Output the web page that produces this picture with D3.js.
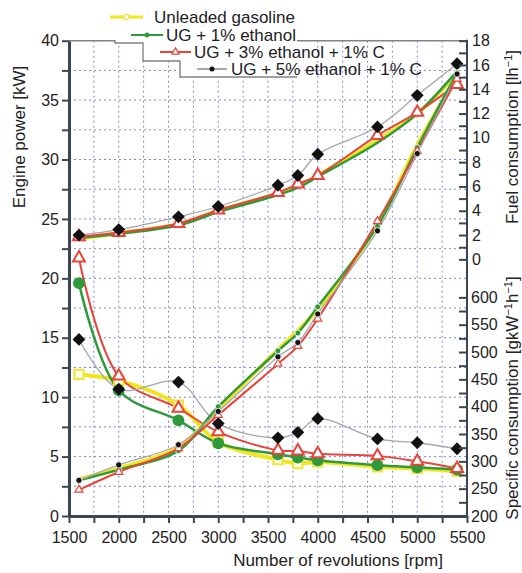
<!DOCTYPE html>
<html>
<head>
<meta charset="utf-8">
<script src="https://cdn.jsdelivr.net/npm/d3@7"></script>
<style>
body { margin: 0; background: #fff; }
svg { font-family: "Liberation Sans", Arial, sans-serif; }
</style>
</head>
<body>
<div id="chart"></div>
<script>
// data
var rpm = [1600, 2000, 2600, 3000, 3600, 3800, 4000, 4600, 5000, 5400];

var seriesNames = ["Unleaded gasoline", "UG + 1% ethanol", "UG + 3% ethanol + 1% C", "UG + 5% ethanol + 1% C"];

// engine power [kW]
var powerUG = [3.1, 4.0, 5.8, 9.0, 14.0, 15.6, 17.4, 24.5, 31.2, 37.0];
var powerE1 = [3.0, 3.9, 5.5, 9.2, 13.9, 15.4, 17.6, 24.4, 31.0, 37.3];
var powerE3 = [2.2, 3.7, 5.7, 8.5, 12.8, 14.3, 16.6, 24.8, 30.7, 36.8];
var powerE5 = [3.0, 4.3, 6.0, 8.8, 13.4, 14.6, 17.0, 24.0, 30.5, 37.2];

// fuel consumption [l/h]
var fuelUG = [1.7, 2.15, 2.9, 4.0, 5.4, 6.0, 6.9, 9.8, 12.0, 15.3];
var fuelE1 = [1.75, 2.1, 2.8, 3.9, 5.3, 5.9, 6.8, 9.6, 12.0, 15.5];
var fuelE3 = [1.85, 2.2, 2.95, 4.05, 5.5, 6.2, 6.9, 10.2, 12.1, 14.4];
var fuelE5 = [2.0, 2.45, 3.5, 4.35, 6.1, 6.9, 8.65, 10.9, 13.5, 16.1];

// specific consumption [g/kWh]
var specUG = [459, 448, 403, 335, 303, 296, 299, 290, 287, 282];
var specE1 = [626, 430, 375, 333, 313, 307, 302, 293, 289, 285];
var specE3 = [672, 456, 397, 354, 320, 319, 314, 310, 300, 287];
var specE5 = [523, 432, 445, 369, 343, 353, 378, 341, 334, 323];

// ticks
var xTicks = [1500, 2000, 2500, 3000, 3500, 4000, 4500, 5000, 5500];
var xMinor = [1500, 1750, 2000, 2250, 2500, 2750, 3000, 3250, 3500, 3750, 4000, 4250, 4500, 4750, 5000, 5250, 5500];
var powerTicks = [0, 5, 10, 15, 20, 25, 30, 35, 40];
var powerMinor = [0, 2.5, 5, 7.5, 10, 12.5, 15, 17.5, 20, 22.5, 25, 27.5, 30, 32.5, 35, 37.5, 40];
var fuelTicks = [0, 2, 4, 6, 8, 10, 12, 14, 16, 18];
var fuelMinor = [0, 1, 2, 3, 4, 5, 6, 7, 8, 9, 10, 11, 12, 13, 14, 15, 16, 17, 18];
var specTicks = [200, 250, 300, 350, 400, 450, 500, 550, 600];
var specMinor = [200, 225, 250, 275, 300, 325, 350, 375, 400, 425, 450, 475, 500, 525, 550, 575, 600];

var W = 522, H = 573;
var pLeft = 69, pRight = 467, pTop = 40.7, pBottom = 516;

var svg = d3.select("#chart").append("svg")
    .attr("width", W)
    .attr("height", H);

var x = d3.scaleLinear().domain([1500, 5500]).range([pLeft, pRight]);
var y = d3.scaleLinear().domain([0, 40]).range([pBottom, pTop]);
var yFuel = d3.scaleLinear().domain([0, 18]).range([y(21.6), y(40)]);
var ySpec = d3.scaleLinear().domain([200, 600]).range([y(0), y(18.4)]);

var gridCol = "#8389c9";
var axisCol = "#3b4651";

// grid
svg.append("g").selectAll("line").data(xMinor.slice(1, -1)).enter().append("line")
    .attr("x1", d => x(d)).attr("x2", d => x(d))
    .attr("y1", pTop).attr("y2", pBottom)
    .attr("stroke", gridCol).attr("stroke-width", 1).attr("stroke-dasharray", "2,3");
svg.append("g").selectAll("line").data(powerMinor.slice(1, -1)).enter().append("line")
    .attr("x1", pLeft).attr("x2", pRight)
    .attr("y1", d => y(d)).attr("y2", d => y(d))
    .attr("stroke", gridCol).attr("stroke-width", 1).attr("stroke-dasharray", "2,3");

// legend background staircase covering the top of the frame
svg.append("path")
    .attr("d", "M115,0 L115,43 L143,43 L143,61 L180,61 L180,77 L297,77 L297,0 Z")
    .attr("fill", "#fff");
svg.append("path")
    .attr("d", "M" + pLeft + "," + pTop + " L115," + pTop + " L115,43 L143,43 L143,61 L180,61 L180,77 L297,77 M297," + pTop + " L" + pRight + "," + pTop)
    .attr("fill", "none").attr("stroke", "#80838a").attr("stroke-width", 1.4);

var cols = ["#f1e61c", "#2f9a3c", "#e8443b", "#a3a6ae"];
var widths = [4, 2.5, 2, 1.3];

var line = function(yscale) {
    return d3.line()
        .x(d => x(d[0]))
        .y(d => yscale(d[1]))
        .curve(d3.curveCatmullRom.alpha(0.5));
};

function pairs(vals) {
    return rpm.map((r, i) => [r, vals[i]]);
}

var groups = [
    {scale: ySpec, data: [specUG, specE1, specE3, specE5]},
    {scale: yFuel, data: [fuelUG, fuelE1, fuelE3, fuelE5]},
    {scale: y, data: [powerUG, powerE1, powerE3, powerE5]}
];

groups.forEach(function(g) {
    g.data.forEach(function(vals, i) {
        svg.append("path")
            .datum(pairs(vals))
            .attr("d", line(g.scale))
            .attr("fill", "none")
            .attr("stroke", cols[i])
            .attr("stroke-width", widths[i])
            .attr("stroke-linejoin", "round");
    });
});

function markers(vals, yscale, type, size, fill, stroke, sw, rot) {
    var sym = d3.symbol().type(type).size(size);
    svg.append("g").selectAll("path").data(pairs(vals)).enter().append("path")
        .attr("d", sym)
        .attr("transform", d => "translate(" + x(d[0]) + "," + yscale(d[1]) + ")" + (rot ? " rotate(45)" : ""))
        .attr("fill", fill)
        .attr("stroke", stroke)
        .attr("stroke-width", sw);
}

// specific consumption markers (large)
markers(specUG, ySpec, d3.symbolSquare, 85, "#fffbe0", "#efe33a", 2);
markers(specE1, ySpec, d3.symbolCircle, 110, "#2f9a3c", "none", 0);
markers(specE3, ySpec, d3.symbolTriangle, 62, "#fff", "#e8443b", 2);
markers(specE5, ySpec, d3.symbolSquare, 82, "#111", "none", 0, true);

// fuel markers
markers(fuelE3, yFuel, d3.symbolTriangle, 62, "#fff", "#e8443b", 2);
markers(fuelE5, yFuel, d3.symbolSquare, 82, "#111", "none", 0, true);

// power markers (small)
markers(powerE1, y, d3.symbolCircle, 28, "#2f9a3c", "#fff", 0.8);
markers(powerE3, y, d3.symbolTriangle, 28, "#fff", "#e8443b", 1.2);
markers(powerE5, y, d3.symbolCircle, 30, "#111", "#fff", 0.8);

// axes
function styleAxis(g, w) {
    g.attr("font-family", null);
    g.select(".domain").attr("stroke", axisCol).attr("stroke-width", w);
    g.selectAll(".tick line").attr("stroke", axisCol).attr("stroke-width", 2);
    g.selectAll("text").attr("font-size", "16px").attr("fill", "#222");
}

var xAxis = svg.append("g").attr("transform", "translate(0," + pBottom + ")")
    .call(d3.axisBottom(x).tickValues(xMinor).tickSize(7).tickSizeOuter(0)
        .tickFormat(d => xTicks.indexOf(d) >= 0 ? d : ""));
styleAxis(xAxis, 3);
xAxis.selectAll("text").attr("dy", "1.05em");

var yAxis = svg.append("g").attr("transform", "translate(" + pLeft + ",0)")
    .call(d3.axisLeft(y).tickValues(powerMinor).tickSize(7).tickSizeOuter(0)
        .tickFormat(d => powerTicks.indexOf(d) >= 0 ? d : ""));
styleAxis(yAxis, 3);
yAxis.selectAll("text").attr("x", -10);

svg.append("line")
    .attr("x1", pRight).attr("x2", pRight)
    .attr("y1", pTop - 1).attr("y2", pBottom)
    .attr("stroke", axisCol).attr("stroke-width", 2);

var fAxis = svg.append("g").attr("transform", "translate(" + pRight + ",0)")
    .call(d3.axisRight(yFuel).tickValues(fuelMinor).tickSize(-8).tickSizeOuter(0)
        .tickFormat(d => fuelTicks.indexOf(d) >= 0 ? d : ""));
styleAxis(fAxis, 0);
fAxis.selectAll("text").attr("x", 5);

var sAxis = svg.append("g").attr("transform", "translate(" + pRight + ",0)")
    .call(d3.axisRight(ySpec).tickValues(specMinor).tickSize(-8).tickSizeOuter(0)
        .tickFormat(d => specTicks.indexOf(d) >= 0 ? d : ""));
styleAxis(sAxis, 0);
sAxis.selectAll("text").attr("x", 4);

// axis titles
svg.append("text")
    .attr("transform", "translate(25,137) rotate(-90)")
    .attr("text-anchor", "middle")
    .attr("font-size", "17px").attr("fill", "#222")
    .text("Engine power [kW]");

svg.append("text")
    .attr("x", 338).attr("y", 566)
    .attr("text-anchor", "middle")
    .attr("font-size", "17px").attr("fill", "#222")
    .text("Number of revolutions [rpm]");

var ft = svg.append("text")
    .attr("transform", "translate(518,137) rotate(-90)")
    .attr("text-anchor", "middle")
    .attr("font-size", "17px").attr("fill", "#222");
ft.append("tspan").text("Fuel consumption [lh");
ft.append("tspan").attr("dy", -6).attr("font-size", "11px").text("\u22121");
ft.append("tspan").attr("dy", 6).text("]");

var st = svg.append("text")
    .attr("transform", "translate(518,398) rotate(-90)")
    .attr("text-anchor", "middle")
    .attr("font-size", "17px").attr("fill", "#222");
st.append("tspan").text("Specific consumption [gkW");
st.append("tspan").attr("dy", -6).attr("font-size", "11px").text("\u22121");
st.append("tspan").attr("dy", 6).text("h");
st.append("tspan").attr("dy", -6).attr("font-size", "11px").text("\u22121");
st.append("tspan").attr("dy", 6).text("]");

// legend
var legPos = [[110, 143, 17, 154], [131, 163, 35, 166], [160, 191, 52, 194], [197, 227, 69, 231]];
var legMarks = [
    {type: d3.symbolCircle, size: 22, fill: "#fff", stroke: "#e8de30"},
    {type: d3.symbolCircle, size: 20, fill: "#2f9a3c", stroke: "none"},
    {type: d3.symbolTriangle, size: 22, fill: "#fff", stroke: "#e8443b"},
    {type: d3.symbolCircle, size: 20, fill: "#111", stroke: "none"}
];
var leg = svg.append("g").selectAll("g").data(seriesNames).enter().append("g");
leg.append("line")
    .attr("x1", (d, i) => legPos[i][0]).attr("x2", (d, i) => legPos[i][1])
    .attr("y1", (d, i) => legPos[i][2]).attr("y2", (d, i) => legPos[i][2])
    .attr("stroke", (d, i) => cols[i])
    .attr("stroke-width", (d, i) => i === 0 ? 3 : 2);
leg.append("path")
    .attr("d", (d, i) => d3.symbol().type(legMarks[i].type).size(legMarks[i].size)())
    .attr("transform", (d, i) => "translate(" + (legPos[i][0] + legPos[i][1]) / 2 + "," + legPos[i][2] + ")")
    .attr("fill", (d, i) => legMarks[i].fill)
    .attr("stroke", (d, i) => legMarks[i].stroke)
    .attr("stroke-width", 1.2);
leg.append("text")
    .attr("x", (d, i) => legPos[i][3])
    .attr("y", (d, i) => legPos[i][2] + 6)
    .attr("font-size", "17px").attr("fill", "#222")
    .text(d => d);
</script>
</body>
</html>
